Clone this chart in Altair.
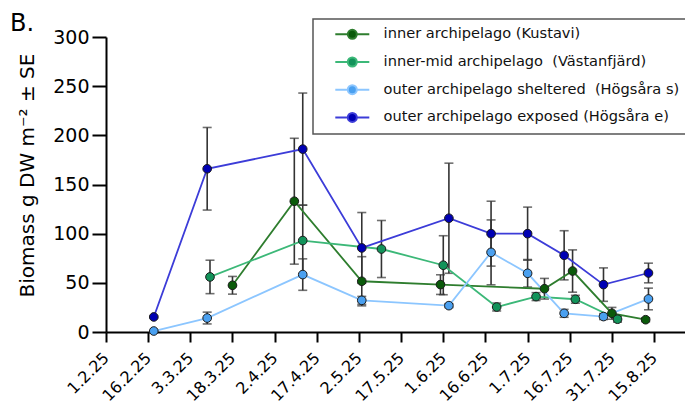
import altair as alt
import pandas as pd

series_names = [
    "inner archipelago (Kustavi)",
    "inner-mid archipelago \u00a0(Västanfjärd)",
    "outer archipelago sheltered \u00a0(Högsåra s)",
    "outer archipelago exposed (Högsåra e)",
]
fill_colors = ["#0a5a0a", "#12935a", "#4aa0f0", "#0000b4"]
line_colors = ["#2e7d2e", "#3cb878", "#8cc6ff", "#3c3cd8"]

inner_dates = ["2025-03-18", "2025-04-09", "2025-05-03", "2025-05-31", "2025-07-07", "2025-07-17", "2025-07-31", "2025-08-12"]
inner_vals = [47.5, 133, 51.6, 48.2, 44, 62, 19, 12.5]
inner_se = [9, 64, 25, 10, 10.5, 21.5, 6, 2]

innermid_dates = ["2025-03-10", "2025-04-12", "2025-05-10", "2025-06-01", "2025-06-20", "2025-07-04", "2025-07-18", "2025-08-02"]
innermid_vals = [56, 93, 84.4, 67.9, 25.4, 36, 33.3, 13]
innermid_se = [17, 36, 29, 30, 4, 4, 4, 3]

shelt_dates = ["2025-02-18", "2025-03-09", "2025-04-12", "2025-05-03", "2025-06-03", "2025-06-18", "2025-07-01", "2025-07-14", "2025-07-28", "2025-08-13"]
shelt_vals = [1, 14.2, 58.4, 32.2, 26.8, 81, 59.7, 19, 15.7, 33.6]
shelt_se = [0, 6, 16, 4, 2, 33, 14, 4, 3, 11]

exp_dates = ["2025-02-18", "2025-03-09", "2025-04-12", "2025-05-03", "2025-06-03", "2025-06-18", "2025-07-01", "2025-07-14", "2025-07-28", "2025-08-13"]
exp_vals = [15.3, 166, 186, 85.5, 115.7, 100, 100, 78, 48.2, 60]
exp_se = [1, 42, 57, 36, 56, 33, 27, 25, 17, 10]

tick_dates = [(2, 1), (2, 16), (3, 3), (3, 18), (4, 2), (4, 17), (5, 2), (5, 17),
              (6, 1), (6, 16), (7, 1), (7, 16), (7, 31), (8, 15)]
y_ticks = list(range(0, 301, 25))

rows = []
for name, ds, vs, ses in [
    (series_names[0], inner_dates, inner_vals, inner_se),
    (series_names[1], innermid_dates, innermid_vals, innermid_se),
    (series_names[2], shelt_dates, shelt_vals, shelt_se),
    (series_names[3], exp_dates, exp_vals, exp_se),
]:
    for d, v, s in zip(ds, vs, ses):
        rows.append({"series": name, "date": d, "value": v, "se": s,
                     "lo": v - s, "hi": v + s})
df = pd.DataFrame(rows)

FONT = "DejaVu Sans"

x_enc = alt.X(
    "date:T",
    scale=alt.Scale(type="utc",
                    domain=[alt.DateTime(year=2025, month=2, date=1, utc=True),
                            alt.DateTime(year=2025, month=8, date=26, utc=True)]),
    axis=alt.Axis(
        values=[alt.DateTime(year=2025, month=m, date=d, utc=True) for m, d in tick_dates],
        labelExpr="utcFormat(datum.value, '%-d.%-m.%y')", labelOverlap=False,
        labelAngle=-45, labelAlign="right", labelBaseline="middle",
        title=None, grid=False, domainColor="black", domainWidth=2,
        tickColor="black", tickWidth=2, tickSize=10, labelFontSize=16,
        labelFont=FONT, labelColor="black", labelPadding=13,
    ),
)
y_scale = alt.Scale(domain=[0, 300], nice=False)
y_axis = alt.Axis(
    values=y_ticks, title="Biomass g DW m\u207b\u00b2 \u00b1 SE",
    titleFontSize=20, titleFont=FONT, titleFontWeight="normal", titleColor="black",
    titlePadding=15, titleY=138, grid=False, domainColor="black", domainWidth=2,
    tickColor="black", tickWidth=2, tickSize=14, labelFontSize=19,
    labelFont=FONT, labelColor="black", labelPadding=3,
)

legend = alt.Legend(
    title=None, orient="none", legendX=207, legendY=-18,
    labelFont=FONT, labelFontSize=14.6, labelColor="#111", labelLimit=400,
    symbolType="M-3.4,0H-0.9M0.9,0H3.4M0.9,0A0.9,0.9 0 1 1 -0.9,0A0.9,0.9 0 1 1 0.9,0Z",
    symbolSize=100, symbolStrokeWidth=2, symbolOffset=24, labelOffset=24,
    padding=8, rowPadding=9.7, strokeColor="#555", fillColor="white",
)

base = alt.Chart(df)
err = base.transform_filter("datum.se > 0")

rule = err.mark_rule(color="#333333", strokeWidth=1.6).encode(
    x=x_enc, y=alt.Y("lo:Q", scale=y_scale, axis=y_axis), y2="hi:Q")
cap_lo = err.mark_tick(color="#333333", size=9, thickness=1.6, orient="horizontal").encode(
    x=x_enc, y=alt.Y("lo:Q", scale=y_scale))
cap_hi = err.mark_tick(color="#333333", size=9, thickness=1.6, orient="horizontal").encode(
    x=x_enc, y=alt.Y("hi:Q", scale=y_scale))

lines = base.mark_line(strokeWidth=1.8).encode(
    x=x_enc, y=alt.Y("value:Q", scale=y_scale),
    stroke=alt.Stroke("series:N", scale=alt.Scale(domain=series_names, range=line_colors), legend=legend),
    order="date:T",
)
points = base.mark_circle(size=75, opacity=1, stroke="#1a1a1a", strokeWidth=1).encode(
    x=x_enc, y=alt.Y("value:Q", scale=y_scale),
    fill=alt.Fill("series:N", scale=alt.Scale(domain=series_names, range=fill_colors), legend=legend),
)

chart = alt.layer(rule, cap_lo, cap_hi, lines, points).properties(
    width=579, height=295,
    title=alt.TitleParams("B.", anchor="start", frame="group", fontSize=24,
                          font=FONT, fontWeight="normal", color="black", offset=4,
                          dx=-96, dy=22),
    autosize=alt.AutoSizeParams(type="none"),
    padding={"left": 98, "top": 29, "right": 0, "bottom": 76},
).configure_view(stroke=None).configure_legend(strokeWidth=1.5)

chart.save("out.html", embed_options={"renderer": "svg", "actions": False})
